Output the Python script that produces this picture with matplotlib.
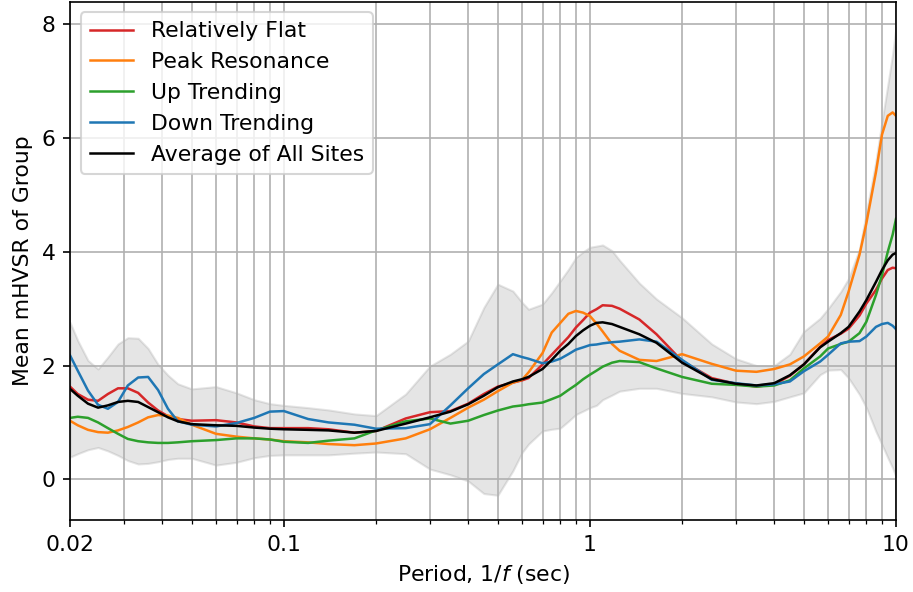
import matplotlib
import numpy as np

matplotlib.use('Agg')
import matplotlib.pyplot as plt
from matplotlib.ticker import NullFormatter

plt.rcParams['font.size'] = 10.5

# Period (sec) sample points
period = [0.02, 0.0212, 0.0229, 0.0247, 0.0266, 0.0287, 0.0309, 0.0334, 0.036, 0.0388, 0.0418, 0.045, 0.05,
          0.06, 0.07, 0.08, 0.09, 0.1, 0.12, 0.14, 0.17, 0.2, 0.25, 0.3, 0.35, 0.4, 0.45, 0.5, 0.56,
          0.6, 0.63, 0.7, 0.75, 0.8, 0.85, 0.9, 0.95, 1.0, 1.05, 1.1, 1.18, 1.25, 1.45, 1.65, 2.0, 2.5, 3.0, 3.5, 4.0,
          4.5, 5.0, 5.65, 6.0, 6.6, 7.0, 7.6, 8.0, 8.6, 9.0, 9.4, 9.75, 10.0]

relatively_flat = [1.63, 1.50, 1.40, 1.38, 1.50, 1.60, 1.60, 1.52, 1.35, 1.21, 1.11, 1.06, 1.03,
                   1.04, 1.00, 0.93, 0.90, 0.90, 0.90, 0.88, 0.82, 0.85, 1.07, 1.18, 1.20, 1.33, 1.50, 1.63, 1.70,
                   1.74, 1.78, 2.02, 2.19, 2.35, 2.50, 2.67, 2.80, 2.93, 2.99, 3.06, 3.05, 3.00, 2.81, 2.55, 2.08, 1.78, 1.68, 1.63, 1.67,
                   1.82, 2.02, 2.33, 2.45, 2.56, 2.65, 2.88, 3.09, 3.33, 3.53, 3.68, 3.72, 3.71]

peak_resonance = [1.03, 0.95, 0.87, 0.83, 0.82, 0.86, 0.92, 1.00, 1.09, 1.13, 1.12, 1.08, 0.96,
                  0.80, 0.75, 0.72, 0.70, 0.67, 0.65, 0.62, 0.60, 0.63, 0.72, 0.88, 1.08, 1.26, 1.40, 1.55, 1.70,
                  1.75, 1.88, 2.22, 2.58, 2.75, 2.91, 2.96, 2.93, 2.87, 2.74, 2.60, 2.38, 2.26, 2.10, 2.08, 2.20, 2.03, 1.91, 1.89, 1.94,
                  2.02, 2.16, 2.39, 2.51, 2.89, 3.30, 3.95, 4.50, 5.40, 6.06, 6.39, 6.45, 6.39]

up_trending = [1.08, 1.10, 1.08, 1.00, 0.90, 0.80, 0.71, 0.67, 0.65, 0.64, 0.64, 0.65, 0.67,
               0.69, 0.72, 0.72, 0.70, 0.66, 0.64, 0.68, 0.72, 0.86, 1.02, 1.07, 0.98, 1.03, 1.13, 1.21, 1.28,
               1.30, 1.32, 1.35, 1.41, 1.47, 1.57, 1.66, 1.76, 1.84, 1.91, 1.98, 2.05, 2.08, 2.06, 1.95, 1.80, 1.68, 1.66, 1.63, 1.65,
               1.74, 1.95, 2.16, 2.30, 2.38, 2.42, 2.57, 2.77, 3.24, 3.59, 4.00, 4.30, 4.58]

down_trending = [2.18, 1.91, 1.56, 1.31, 1.24, 1.36, 1.65, 1.79, 1.80, 1.57, 1.24, 1.02, 0.96,
                 0.93, 0.99, 1.08, 1.19, 1.20, 1.06, 1.00, 0.96, 0.89, 0.90, 0.97, 1.30, 1.60, 1.85, 2.02, 2.20,
                 2.15, 2.12, 2.04, 2.07, 2.12, 2.20, 2.28, 2.32, 2.36, 2.37, 2.39, 2.41, 2.42, 2.46, 2.42, 2.10, 1.75, 1.69, 1.65, 1.67,
                 1.72, 1.90, 2.07, 2.19, 2.39, 2.42, 2.43, 2.51, 2.68, 2.73, 2.75, 2.70, 2.64]

average_all = [1.59, 1.47, 1.33, 1.26, 1.30, 1.36, 1.38, 1.36, 1.27, 1.18, 1.09, 1.02, 0.97,
               0.95, 0.94, 0.91, 0.89, 0.88, 0.87, 0.86, 0.82, 0.85, 0.98, 1.09, 1.19, 1.32, 1.47, 1.62, 1.72,
               1.76, 1.80, 1.94, 2.10, 2.26, 2.38, 2.52, 2.62, 2.70, 2.75, 2.76, 2.73, 2.68, 2.55, 2.40, 2.05, 1.76, 1.68, 1.65, 1.69,
               1.83, 2.02, 2.32, 2.42, 2.57, 2.68, 2.95, 3.15, 3.47, 3.68, 3.85, 3.95, 3.98]

# spread of all sites (shaded band)
band_upper = [2.76, 2.44, 2.09, 1.94, 2.15, 2.38, 2.49, 2.48, 2.30, 2.02, 1.83, 1.68, 1.59,
              1.63, 1.52, 1.40, 1.33, 1.30, 1.26, 1.22, 1.15, 1.12, 1.50, 1.99, 2.20, 2.43, 3.02, 3.43, 3.31,
              3.11, 2.99, 3.08, 3.28, 3.49, 3.69, 3.90, 4.00, 4.08, 4.10, 4.12, 4.02, 3.85, 3.45, 3.17, 2.84, 2.38, 2.12, 2.00, 2.00,
              2.20, 2.60, 2.83, 3.00, 3.30, 3.53, 4.05, 4.69, 5.60, 6.29, 6.93, 7.48, 7.95]

band_lower = [0.39, 0.45, 0.52, 0.56, 0.50, 0.42, 0.33, 0.27, 0.28, 0.31, 0.35, 0.37, 0.37,
              0.25, 0.30, 0.38, 0.42, 0.43, 0.43, 0.43, 0.46, 0.48, 0.45, 0.18, 0.08, -0.03, -0.25, -0.28, 0.15,
              0.47, 0.62, 0.85, 0.88, 0.90, 1.02, 1.14, 1.20, 1.26, 1.30, 1.40, 1.48, 1.55, 1.60, 1.60, 1.51, 1.45, 1.36, 1.33, 1.37,
              1.45, 1.52, 1.84, 1.92, 1.93, 1.78, 1.49, 1.26, 0.84, 0.61, 0.38, 0.20, 0.05]

tick_vals = [0.02, 0.1, 1, 10]
tick_labels = ['0.02', '0.1', '1', '10']

fig = plt.figure(figsize=(913 / 150, 592 / 150), dpi=150)
ax = fig.add_axes([70 / 913, 72 / 592, 826 / 913, 518.5 / 592])

ax.fill_between(period, band_lower, band_upper, color='gray', alpha=0.2)
ax.plot(period, relatively_flat, color='tab:red', lw=1.2, label='Relatively Flat')
ax.plot(period, peak_resonance, color='tab:orange', lw=1.2, label='Peak Resonance')
ax.plot(period, up_trending, color='tab:green', lw=1.2, label='Up Trending')
ax.plot(period, down_trending, color='tab:blue', lw=1.2, label='Down Trending')
ax.plot(period, average_all, color='black', lw=1.2, label='Average of All Sites')

ax.set_xscale('log')
ax.set_xlim(0.02, 10)
ax.set_ylim(-0.715, 8.4)
ax.set_xticks(tick_vals)
ax.set_xticklabels(tick_labels)
ax.xaxis.set_minor_formatter(NullFormatter())
ax.set_yticks([0, 2, 4, 6, 8])
ax.grid(True, which='both')

ax.set_xlabel('Period, 1/$f$ (sec)')
ax.set_ylabel('Mean mHVSR of Group')
ax.legend(loc='upper left')

fig.savefig('out.png', dpi=150)
